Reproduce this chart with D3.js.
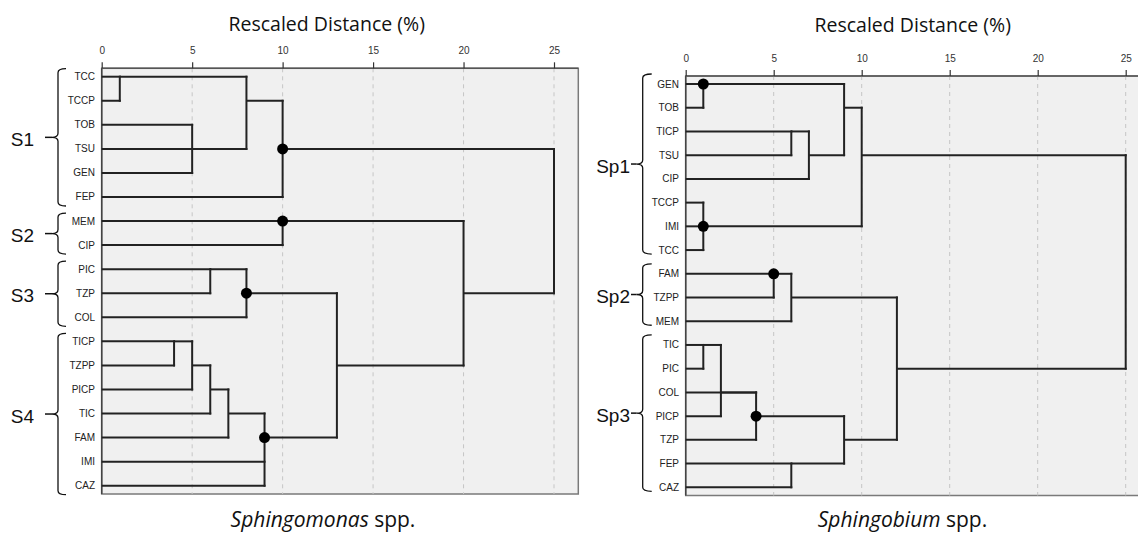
<!DOCTYPE html>
<html>
<head>
<meta charset="utf-8">
<script src="https://cdn.jsdelivr.net/npm/d3@7"></script>
<style>
  html, body { margin: 0; padding: 0; background: #fff; }
  svg { display: block; }
</style>
</head>
<body>
<svg id="chart" width="1138" height="535"></svg>
<script>
// ---------------- DATA ----------------
const tickValues = [0, 5, 10, 15, 20, 25];
const axisTitle = "Rescaled Distance (%)";

// Panel A: Sphingomonas spp.
const leavesA = ["TCC","TCCP","TOB","TSU","GEN","FEP","MEM","CIP","PIC","TZP","COL","TICP","TZPP","PICP","TIC","FAM","IMI","CAZ"];
// each merge: children (leaves or merge ids), rescaled distance, leaf row where the cluster line runs, highlighted dot
const mergesA = [
  {id:"A", kids:["TCC","TCCP"], h:1, row:"TCC"},
  {id:"B", kids:["TOB","TSU","GEN"], h:5, row:"TSU"},
  {id:"C", kids:["A","B"], h:8, row:"TCCP"},
  {id:"D", kids:["C","FEP"], h:10, row:"TSU", dot:true},
  {id:"E", kids:["MEM","CIP"], h:10, row:"MEM", dot:true},
  {id:"F", kids:["PIC","TZP"], h:6, row:"PIC"},
  {id:"G", kids:["F","COL"], h:8, row:"TZP", dot:true},
  {id:"H", kids:["TICP","TZPP"], h:4, row:"TICP"},
  {id:"I", kids:["H","PICP"], h:5, row:"TZPP"},
  {id:"J", kids:["I","TIC"], h:6, row:"PICP"},
  {id:"K", kids:["J","FAM"], h:7, row:"TIC"},
  {id:"L", kids:["K","IMI","CAZ"], h:9, row:"FAM", dot:true},
  {id:"M", kids:["G","L"], h:13, row:"TZPP"},
  {id:"N", kids:["E","M"], h:20, row:"TZP"},
  {id:"O", kids:["D","N"], h:25, row:"MEM"}
];
const groupLabelsA = ["S1","S2","S3","S4"];
const groupFirstA  = ["TCC","MEM","PIC","TICP"];
const groupLastA   = ["FEP","CIP","COL","CAZ"];
const captionGenusA = "Sphingomonas";

// Panel B: Sphingobium spp.
const leavesB = ["GEN","TOB","TICP","TSU","CIP","TCCP","IMI","TCC","FAM","TZPP","MEM","TIC","PIC","COL","PICP","TZP","FEP","CAZ"];
const mergesB = [
  {id:"a", kids:["GEN","TOB"], h:1, row:"GEN", dot:true},
  {id:"b", kids:["TICP","TSU"], h:6, row:"TICP"},
  {id:"c", kids:["b","CIP"], h:7, row:"TSU"},
  {id:"d", kids:["a","c"], h:9, row:"TOB"},
  {id:"e", kids:["TCCP","IMI","TCC"], h:1, row:"IMI", dot:true},
  {id:"f", kids:["d","e"], h:10, row:"TSU"},
  {id:"g", kids:["FAM","TZPP"], h:5, row:"FAM", dot:true},
  {id:"h", kids:["g","MEM"], h:6, row:"TZPP"},
  {id:"i", kids:["TIC","PIC"], h:1, row:"TIC"},
  {id:"j", kids:["i","PICP"], h:2, row:"COL"},
  {id:"k", kids:["COL","j","TZP"], h:4, row:"PICP", dot:true},
  {id:"l", kids:["FEP","CAZ"], h:6, row:"FEP"},
  {id:"m", kids:["k","l"], h:9, row:"TZP"},
  {id:"n", kids:["h","m"], h:12, row:"PIC"},
  {id:"o", kids:["f","n"], h:25, row:"TSU"}
];
const groupLabelsB = ["Sp1","Sp2","Sp3"];
const groupFirstB  = ["GEN","FAM","TIC"];
const groupLastB   = ["TCC","MEM","CAZ"];
const captionGenusB = "Sphingobium";

// ---------------- LAYOUT ----------------
const panels = [
  {leaves: leavesA, merges: mergesA, gl: groupLabelsA, gf: groupFirstA, gz: groupLastA, genus: captionGenusA,
   x0: 101.7, x25: 554, frameRight: 578.3, top: 68.3, bottom: 494, rowTop: 76.7, rowBottom: 485.7,
   titleX: 326.7, titleY: 30.5, capX: 323, capY: 527,
   labelEnd: 95, braceX: 58, braceHook: 8, braceTip: 6, dashX0: 45, padTop: 8, padBot: 9, glEnd: 34},
  {leaves: leavesB, merges: mergesB, gl: groupLabelsB, gf: groupFirstB, gz: groupLastB, genus: captionGenusB,
   x0: 685.7, x25: 1125.7, frameRight: 1160, top: 76, bottom: 495.5, rowTop: 84, rowBottom: 487.3,
   titleX: 912.7, titleY: 32.3, capX: 902.5, capY: 527,
   labelEnd: 679, braceX: 642.7, braceHook: 9, braceTip: 6, dashX0: 631, padTop: 10, padBot: 4, glEnd: 630}
];

const svg = d3.select("#chart");
svg.append("rect").attr("width", 1138).attr("height", 535).attr("fill", "#fff");

panels.forEach(p => {
  const g = svg.append("g");
  const x = d3.scaleLinear().domain([0, 25]).range([p.x0, p.x25]);
  const y = d3.scalePoint().domain(p.leaves).range([p.rowTop, p.rowBottom]);

  // frame
  g.append("rect")
    .attr("x", p.x0).attr("y", p.top)
    .attr("width", p.frameRight - p.x0).attr("height", p.bottom - p.top)
    .attr("fill", "#f0f0f0").attr("stroke", "#7a7a7a").attr("stroke-width", 1.5);

  // grid
  g.selectAll(".grid").data(tickValues.filter(t => t > 0)).enter().append("line")
    .attr("x1", d => x(d)).attr("x2", d => x(d))
    .attr("y1", p.top).attr("y2", p.bottom)
    .attr("stroke", "#c6c6c6").attr("stroke-width", 1).attr("stroke-dasharray", "4,4");

  // left & top frame edges darker
  g.append("line").attr("x1", p.x0).attr("x2", p.x0).attr("y1", p.top).attr("y2", p.bottom)
    .attr("stroke", "#444").attr("stroke-width", 1.5);
  g.append("line").attr("x1", p.x0).attr("x2", p.frameRight).attr("y1", p.top).attr("y2", p.top)
    .attr("stroke", "#555").attr("stroke-width", 1.5);

  // axis
  const ax = g.append("g").attr("transform", `translate(0,${p.top})`)
    .call(d3.axisTop(x).tickValues(tickValues).tickSize(6).tickSizeOuter(0).tickPadding(8));
  ax.select(".domain").remove();
  ax.selectAll(".tick line").attr("stroke", "#333").attr("stroke-width", 1.2);
  ax.selectAll(".tick text").attr("fill", "#333")
    .style("font-family", "'Liberation Sans', Arial, sans-serif").style("font-size", "10px");

  // title
  g.append("text").attr("x", p.titleX).attr("y", p.titleY).attr("text-anchor", "middle")
    .style("font-family", "'Open Sans', sans-serif").style("font-size", "19.5px").attr("fill", "#111")
    .text(axisTitle);

  // node positions
  const pos = {};
  p.leaves.forEach(l => pos[l] = {x: 0, y: y(l)});
  p.merges.forEach(m => pos[m.id] = {x: m.h, y: y(m.row)});

  const lineCol = "#222", lw = 2;
  const hsegs = [], vsegs = [];
  p.merges.forEach(m => {
    const ys = m.kids.map(k => pos[k].y);
    vsegs.push({x: m.h, y1: d3.min(ys), y2: d3.max(ys)});
    m.kids.forEach(k => hsegs.push({x1: pos[k].x, x2: m.h, y: pos[k].y}));
  });
  g.selectAll(".h").data(hsegs).enter().append("line")
    .attr("x1", d => x(d.x1)).attr("x2", d => x(d.x2) + 1)
    .attr("y1", d => d.y).attr("y2", d => d.y)
    .attr("stroke", lineCol).attr("stroke-width", lw);
  g.selectAll(".v").data(vsegs).enter().append("line")
    .attr("x1", d => x(d.x)).attr("x2", d => x(d.x))
    .attr("y1", d => d.y1 - 1).attr("y2", d => d.y2 + 1)
    .attr("stroke", lineCol).attr("stroke-width", lw);

  // highlighted nodes
  g.selectAll(".dot").data(p.merges.filter(m => m.dot)).enter().append("circle")
    .attr("cx", d => x(d.h)).attr("cy", d => y(d.row)).attr("r", 5.5).attr("fill", "#000");

  // leaf labels
  g.selectAll(".leaf").data(p.leaves).enter().append("text")
    .attr("x", p.labelEnd).attr("y", d => y(d)).attr("dy", "0.35em")
    .attr("text-anchor", "end").attr("fill", "#222")
    .style("font-family", "'Liberation Sans', Arial, sans-serif").style("font-size", "10px")
    .text(d => d);

  // group braces
  p.gl.forEach((lab, i) => {
    const y0 = y(p.gf[i]) - p.padTop, y1 = y(p.gz[i]) + p.padBot, ym = (y0 + y1) / 2;
    const s = p.braceX, r = p.braceHook, t = p.braceTip, c = 4;
    const path = `M${s + r},${y0} Q${s},${y0} ${s},${y0 + c} L${s},${ym - c} Q${s},${ym} ${s - t},${ym}` +
                 ` Q${s},${ym} ${s},${ym + c} L${s},${y1 - c} Q${s},${y1} ${s + r},${y1}`;
    g.append("path").attr("d", path).attr("fill", "none").attr("stroke", "#111").attr("stroke-width", 1.3);
    g.append("line").attr("x1", p.dashX0).attr("x2", s - t).attr("y1", ym).attr("y2", ym)
      .attr("stroke", "#111").attr("stroke-width", 1.5);
    g.append("text").attr("x", p.glEnd).attr("y", ym + 2).attr("dy", "0.35em").attr("text-anchor", "end")
      .style("font-family", "'Liberation Sans', Arial, sans-serif").style("font-size", "19px").attr("fill", "#111")
      .text(lab);
  });

  // caption
  const cap = g.append("text").attr("x", p.capX).attr("y", p.capY).attr("text-anchor", "middle")
    .style("font-family", "'Open Sans', sans-serif").style("font-size", "21px").attr("fill", "#111");
  cap.append("tspan").style("font-style", "italic").text(p.genus);
  cap.append("tspan").text(" spp.");
});
</script>
</body>
</html>
